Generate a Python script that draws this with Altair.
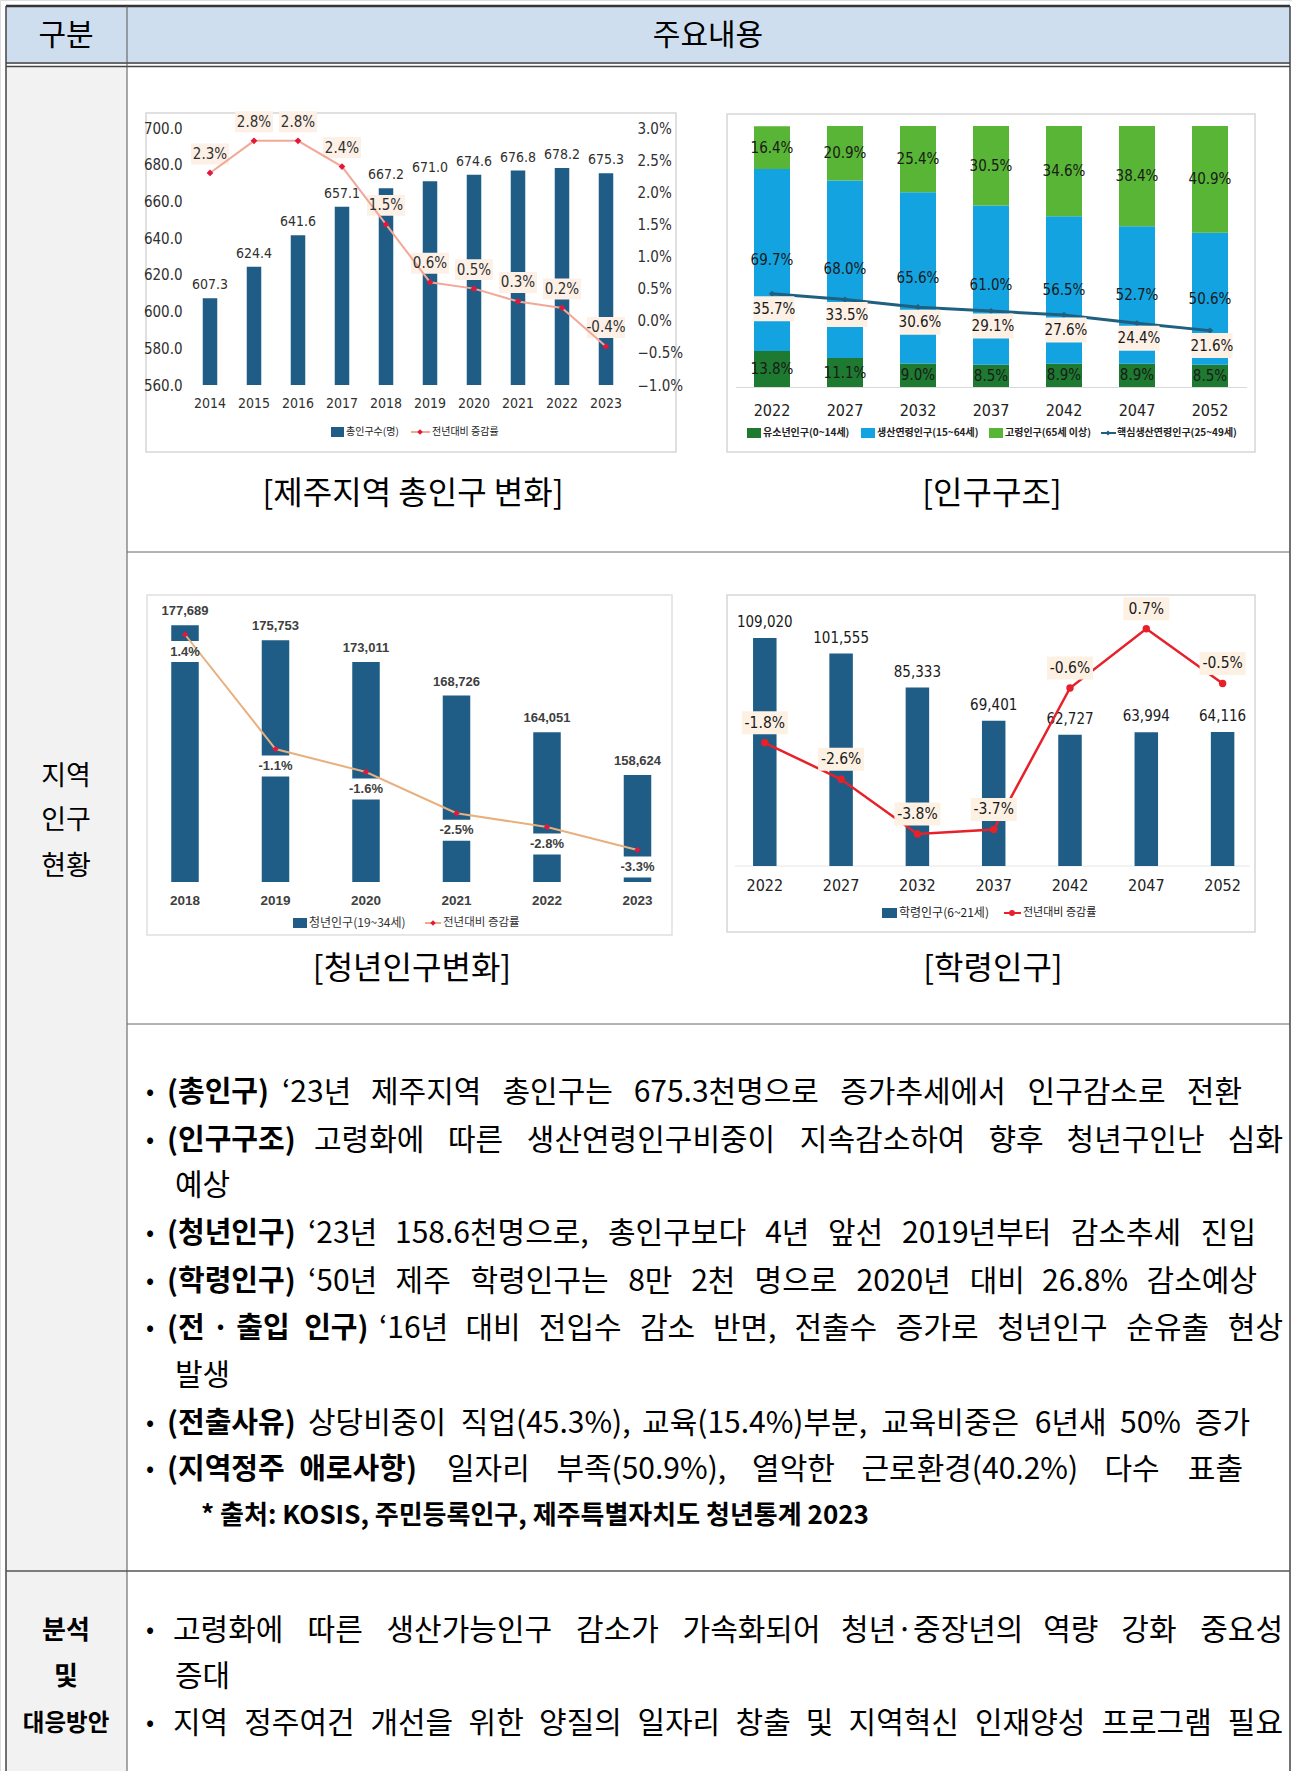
import altair as alt
import pandas as pd

W, H = 1292, 1771
KR = "Noto Sans CJK KR"
NUM = "Liberation Sans Narrow, DejaVu Sans Condensed, Liberation Sans, sans-serif"
ARIAL = "Liberation Sans, Arial, sans-serif"

# ---------------- data ----------------
c1_years = ['2014', '2015', '2016', '2017', '2018', '2019', '2020', '2021', '2022', '2023']
c1_pop = [607.3, 624.4, 641.6, 657.1, 667.2, 671.0, 674.6, 676.8, 678.2, 675.3]
c1_rate = [2.3, 2.8, 2.8, 2.4, 1.5, 0.6, 0.5, 0.3, 0.2, -0.4]
c1_yticks = [560, 580, 600, 620, 640, 660, 680, 700]
c1_rticks = [-1.0, -0.5, 0.0, 0.5, 1.0, 1.5, 2.0, 2.5, 3.0]

c2_years = ['2022', '2027', '2032', '2037', '2042', '2047', '2052']
c2_groups = ['유소년인구(0~14세)', '생산연령인구(15~64세)', '고령인구(65세 이상)']
c2_youth = [13.8, 11.1, 9.0, 8.5, 8.9, 8.9, 8.5]
c2_work = [69.7, 68.0, 65.6, 61.0, 56.5, 52.7, 50.6]
c2_old = [16.4, 20.9, 25.4, 30.5, 34.6, 38.4, 40.9]
c2_core = [35.7, 33.5, 30.6, 29.1, 27.6, 24.4, 21.6]
c2_line_name = '핵심생산연령인구(25~49세)'

c3_years = ['2018', '2019', '2020', '2021', '2022', '2023']
c3_pop = [177689, 175753, 173011, 168726, 164051, 158624]
c3_rate = [1.4, -1.1, -1.6, -2.5, -2.8, -3.3]

c4_years = ['2022', '2027', '2032', '2037', '2042', '2047', '2052']
c4_pop = [109020, 101555, 85333, 69401, 62727, 63994, 64116]
c4_rate = [-1.8, -2.6, -3.8, -3.7, -0.6, 0.7, -0.5]

captions = ['[제주지역 총인구 변화]', '[인구구조]', '[청년인구변화]', '[학령인구]']

# ---------------- styles ----------------
BAR = '#1f5d87'
RED = '#e3173a'
TXT = '#303030'

DUMMY = pd.DataFrame({'k': [0]})
layers = []


def rect(x1, y1, x2, y2, fill, stroke=None, sw=0):
    kw = dict(fill=fill, strokeWidth=sw)
    if stroke:
        kw['stroke'] = stroke
    return alt.Chart(DUMMY).mark_rect(**kw).encode(
        x=alt.value(x1), x2=alt.value(x2), y=alt.value(y1), y2=alt.value(y2))


def rule(x1, y1, x2, y2, color, sw):
    return alt.Chart(DUMMY).mark_rule(color=color, strokeWidth=sw).encode(
        x=alt.value(x1), x2=alt.value(x2), y=alt.value(y1), y2=alt.value(y2))


def label(s, x, y, size, weight='normal', align='left', font=KR, color='#000000'):
    return alt.Chart(DUMMY).mark_text(
        text=s, align=align, baseline='middle', font=font, fontSize=size,
        fontWeight=weight, color=color).encode(x=alt.value(x), y=alt.value(y))


def sym(x, y, shape, size, color):
    return alt.Chart(DUMMY).mark_point(
        shape=shape, size=size, filled=True, color=color, opacity=1, strokeWidth=0
    ).encode(x=alt.value(x), y=alt.value(y))


def box_shape(w, h):
    r = h / w
    return f"M-1,-{r:.4f}L1,-{r:.4f}L1,{r:.4f}L-1,{r:.4f}Z"


def xaxis(offset_y, pad, font, size, weight='normal', domain=False, color=TXT):
    return alt.Axis(orient='bottom', offset=offset_y - H, labelPadding=pad, domain=domain,
                    domainColor='#d9d9d9', domainWidth=1, ticks=False, tickSize=0,
                    grid=False, title=None, labelAngle=0, labelFont=font, zindex=1,
                    labelFontSize=size, labelFontWeight=weight, labelColor=color)


# --- text justification helpers (layout only) ---
def em_width(s):
    w = 0.0
    for ch in s:
        if '\uac00' <= ch <= '\ud7a3':
            w += 0.935
        elif ch.isdigit():
            w += 0.555
        elif ch in '.,':
            w += 0.26
        elif ch in '()':
            w += 0.33
        elif ch == '%':
            w += 0.84
        elif ch == '\u2018':
            w += 0.25
        elif ch == '\u00b7':
            w += 0.3
        else:
            w += 0.5
    return w


def text_line(text, x0, x1, y, size, weight='normal'):
    """Distribute the words of one line between x0 and x1 (justified)."""
    words = text.split(' ')
    widths = [em_width(w) * size for w in words]
    gap = (x1 - x0 - sum(widths)) / (len(words) - 1)
    out, x = [], x0
    last = len(words) - 1
    for i, (wd_text, wd) in enumerate(zip(words, widths)):
        if i == 0:
            out.append(label(wd_text, x0, y, size, weight))
        elif i == last:
            out.append(label(wd_text, x1, y, size, weight, align='right'))
        else:
            out.append(label(wd_text, x + wd / 2, y, size, weight, align='center'))
        x += wd + gap
    return out


# ---------------- table background ----------------
layers += [
    rect(6, 6, 1290, 64, '#cfdeee'),
    rect(6, 66, 127, H, '#f2f2f2'),
    rect(146, 113, 676, 452, '#ffffff', '#d6d6d6', 1.5),
    rect(727, 114, 1255, 452, '#ffffff', '#d6d6d6', 1.5),
    rect(147, 595, 672, 935, '#ffffff', '#e0e0e0', 1.5),
    rect(727, 595, 1255, 932, '#ffffff', '#d6d6d6', 1.5),
]

# ---------------- chart 1 ----------------
c1 = pd.DataFrame({'year': c1_years, 'pop': c1_pop, 'rate': c1_rate})
c1['pop_lbl'] = [f"{v:.1f}" for v in c1_pop]
c1['rate_lbl'] = [f"{v:.1f}%" for v in c1_rate]
X1 = alt.Scale(type='band', domain=c1_years, range=[188, 628], paddingInner=0, paddingOuter=0)
Y1 = alt.Scale(type='linear', domain=[560, 700], range=[385, 128], zero=False, nice=False)
R1 = alt.Scale(type='linear', domain=[-1, 3], range=[385, 128], zero=False, nice=False)
x1n = alt.X('year:N', scale=X1, axis=None)
b1 = alt.Chart(c1)
layers += [
    b1.mark_bar(width=14.5, color=BAR).encode(
        x=alt.X('year:N', scale=X1, axis=xaxis(385, 11, NUM, 14)),
        y=alt.Y('pop:Q', scale=Y1, axis=alt.Axis(
            orient='left', offset=-182, values=c1_yticks, format='.1f', domain=False,
            ticks=False, tickSize=0, labelPadding=0, grid=False, title=None, zindex=1,
            labelFont=NUM, labelFontSize=15, labelColor=TXT)),
        y2=alt.datum(560)),
    b1.mark_text(dy=-13, font=NUM, fontSize=14, color=TXT).encode(
        x=x1n, y=alt.Y('pop:Q', scale=Y1, axis=None), text='pop_lbl:N'),
    b1.mark_point(shape=box_shape(38, 21), size=38 ** 2, filled=True, color='#fdf0e6',
                  opacity=1, strokeWidth=0, yOffset=-19).encode(
        x=x1n, y=alt.Y('rate:Q', scale=R1, axis=None)),
    b1.mark_line(color='#f2a898', strokeWidth=2).encode(
        x=x1n, y=alt.Y('rate:Q', scale=R1, axis=alt.Axis(
            orient='right', offset=637 - W, values=c1_rticks,
            labelExpr="format(datum.value, '.1f') + '%'", domain=False, ticks=False,
            tickSize=0, labelPadding=0, grid=False, title=None, zindex=1,
            labelFont=NUM, labelFontSize=15, labelColor=TXT))),
    b1.mark_point(shape='diamond', filled=True, size=45, color=RED, opacity=1).encode(
        x=x1n, y=alt.Y('rate:Q', scale=R1, axis=None)),
    b1.mark_text(dy=-19, font=NUM, fontSize=15, color=TXT).encode(
        x=x1n, y=alt.Y('rate:Q', scale=R1, axis=None), text='rate_lbl:N'),
]
layers += [
    rect(331, 427, 344, 437, BAR),
    label('총인구수(명)', 346, 432, 10, color='#222222'),
    rule(411, 432, 430, 432, '#f2a898', 2),
    sym(420, 432, 'diamond', 30, RED),
    label('전년대비 증감률', 432, 432, 10, color='#222222'),
]

# ---------------- chart 2 ----------------
rows = []
for i, yr in enumerate(c2_years):
    for k, vals in enumerate([c2_youth, c2_work, c2_old]):
        rows.append({'year': yr, 'group': c2_groups[k], 'order': k, 'share': vals[i]})
c2 = pd.DataFrame(rows)
c2['lbl'] = [f"{v:.1f}%" for v in c2['share']]
c2l = pd.DataFrame({'year': c2_years, 'core': c2_core})
c2l['lbl'] = [f"{v:.1f}%" for v in c2_core]
X2 = alt.Scale(type='band', domain=c2_years, range=[735.5, 1246.5], paddingInner=0, paddingOuter=0)
S2 = alt.Scale(type='linear', domain=[0, 100], range=[387, 126], zero=False, nice=False)
C2 = ['#1d7a30', '#12a3e0', '#58b535']
x2n = alt.X('year:N', scale=X2, axis=None)
stk = alt.Chart(c2).transform_stack(
    stack='share', groupby=['year'], as_=['lo', 'hi'],
    sort=[alt.SortField('order', order='ascending')]
).transform_calculate(mid='(datum.lo + datum.hi) / 2')
b2 = alt.Chart(c2l)
layers += [
    stk.mark_bar(width=36).encode(
        x=alt.X('year:N', scale=X2, axis=xaxis(387, 15, NUM, 16, domain=True, color='#222222')),
        y=alt.Y('lo:Q', scale=S2, axis=None), y2='hi:Q',
        color=alt.Color('group:N', scale=alt.Scale(domain=c2_groups, range=C2), legend=None)),
    stk.mark_text(font=NUM, fontSize=15, color='#1a1a1a').encode(
        x=x2n, y=alt.Y('mid:Q', scale=S2, axis=None), text='lbl:N'),
    b2.mark_line(color='#1f5f80', strokeWidth=3).encode(
        x=x2n, y=alt.Y('core:Q', scale=S2, axis=None)),
    b2.mark_point(shape='diamond', filled=True, size=40, color='#1f5f80', opacity=1).encode(
        x=x2n, y=alt.Y('core:Q', scale=S2, axis=None)),
    b2.mark_point(shape=box_shape(41, 25), size=41 ** 2, filled=True, color='#fdf1e6',
                  opacity=1, strokeWidth=0, yOffset=15, xOffset=2).encode(
        x=x2n, y=alt.Y('core:Q', scale=S2, axis=None)),
    b2.mark_text(dy=15, dx=2, font=NUM, fontSize=15, color='#1a1a1a').encode(
        x=x2n, y=alt.Y('core:Q', scale=S2, axis=None), text='lbl:N'),
]
layers += [
    rect(747, 428, 761, 438, C2[0]),
    label(c2_groups[0], 763, 433, 10, weight='bold', color='#222222'),
    rect(861, 428, 875, 438, C2[1]),
    label(c2_groups[1], 877, 433, 10, weight='bold', color='#222222'),
    rect(989, 428, 1003, 438, C2[2]),
    label(c2_groups[2], 1005, 433, 10, weight='bold', color='#222222'),
    rule(1101, 433, 1116, 433, '#1f5f80', 2),
    sym(1108, 433, 'diamond', 25, '#1f5f80'),
    label(c2_line_name, 1117, 433, 10, weight='bold', color='#222222'),
]

# ---------------- chart 3 ----------------
c3 = pd.DataFrame({'year': c3_years, 'pop': c3_pop, 'rate': c3_rate})
c3['pop_lbl'] = [f"{v:,}" for v in c3_pop]
c3['rate_lbl'] = [f"{v:.1f}%" for v in c3_rate]
X3 = alt.Scale(type='band', domain=c3_years, range=[139.75, 682.75], paddingInner=0, paddingOuter=0)
Y3 = alt.Scale(type='linear', domain=[145000, 180000], range=[882, 607], zero=False, nice=False)
R3 = alt.Scale(type='linear', domain=[-4, 2], range=[882, 607], zero=False, nice=False)
x3n = alt.X('year:N', scale=X3, axis=None)
b3 = alt.Chart(c3)
layers += [
    b3.mark_bar(width=27.5, color=BAR).encode(
        x=alt.X('year:N', scale=X3, axis=xaxis(882, 11, ARIAL, 13.5, weight='bold', color='#404040')),
        y=alt.Y('pop:Q', scale=Y3, axis=None), y2=alt.datum(145000)),
    b3.mark_point(shape=box_shape(40, 21), size=40 ** 2, filled=True, color='#ffffff',
                  opacity=1, strokeWidth=0, yOffset=17).encode(
        x=x3n, y=alt.Y('rate:Q', scale=R3, axis=None)),
    b3.mark_line(color='#e8b07e', strokeWidth=2).encode(
        x=x3n, y=alt.Y('rate:Q', scale=R3, axis=None)),
    b3.mark_point(shape='diamond', filled=True, size=40, color=RED, opacity=1).encode(
        x=x3n, y=alt.Y('rate:Q', scale=R3, axis=None)),
    b3.mark_text(dy=17, font=ARIAL, fontSize=13, fontWeight='bold', color='#404040').encode(
        x=x3n, y=alt.Y('rate:Q', scale=R3, axis=None), text='rate_lbl:N'),
    b3.mark_text(dy=-14, font=ARIAL, fontSize=13, fontWeight='bold', color='#404040').encode(
        x=x3n, y=alt.Y('pop:Q', scale=Y3, axis=None), text='pop_lbl:N'),
]
layers += [
    rect(293, 918, 307, 928, BAR),
    label('청년인구(19~34세)', 309, 923, 12, color='#333333'),
    rule(425, 923, 441, 923, '#e8b07e', 2),
    sym(433, 923, 'diamond', 30, RED),
    label('전년대비 증감률', 443, 923, 11.5, color='#333333'),
]

# ---------------- chart 4 ----------------
c4 = pd.DataFrame({'year': c4_years, 'pop': c4_pop, 'rate': c4_rate})
c4['pop_lbl'] = [f"{v:,}" for v in c4_pop]
c4['rate_lbl'] = [f"{v:.1f}%" for v in c4_rate]
X4 = alt.Scale(type='band', domain=c4_years, range=[726.65, 1260.75], paddingInner=0, paddingOuter=0)
Y4 = alt.Scale(type='linear', domain=[0, 120000], range=[866, 615], zero=False, nice=False)
R4 = alt.Scale(type='linear', domain=[-4.5, 1.0], range=[866, 615], zero=False, nice=False)
x4n = alt.X('year:N', scale=X4, axis=None)
b4 = alt.Chart(c4)
layers += [
    rule(735, 866, 1250, 866, '#e6e6e6', 1),
    b4.mark_bar(width=23.5, color=BAR).encode(
        x=alt.X('year:N', scale=X4, axis=xaxis(866, 11, NUM, 16, color='#222222')),
        y=alt.Y('pop:Q', scale=Y4, axis=None), y2=alt.datum(0)),
    b4.mark_text(dy=-16, font=NUM, fontSize=15, color='#1a1a1a').encode(
        x=x4n, y=alt.Y('pop:Q', scale=Y4, axis=None), text='pop_lbl:N'),
    b4.mark_line(color='#e8202a', strokeWidth=2.5).encode(
        x=x4n, y=alt.Y('rate:Q', scale=R4, axis=None)),
    b4.mark_point(shape='circle', filled=True, size=55, color='#e8202a', opacity=1).encode(
        x=x4n, y=alt.Y('rate:Q', scale=R4, axis=None)),
    b4.mark_point(shape=box_shape(46, 23), size=46 ** 2, filled=True, color='#fdf1e4',
                  opacity=1, strokeWidth=0, yOffset=-20).encode(
        x=x4n, y=alt.Y('rate:Q', scale=R4, axis=None)),
    b4.mark_text(dy=-20, font=NUM, fontSize=15.5, color='#1a1a1a').encode(
        x=x4n, y=alt.Y('rate:Q', scale=R4, axis=None), text='rate_lbl:N'),
]
layers += [
    rect(882, 908, 897, 918, BAR),
    label('학령인구(6~21세)', 899, 913, 12, color='#222222'),
    rule(1004, 913, 1021, 913, '#e8202a', 2),
    sym(1012, 913, 'circle', 35, '#e8202a'),
    label('전년대비 증감률', 1023, 913, 11, color='#222222'),
]

# ---------------- captions ----------------
layers += [
    label(captions[0], 413, 494, 32, align='center'),
    label(captions[1], 992, 494, 32, align='center'),
    label(captions[2], 412, 969, 32, align='center'),
    label(captions[3], 993, 969, 32, align='center'),
]

# ---------------- header and left column ----------------
layers += [
    label('구분', 66, 36, 30, align='center'),
    label('주요내용', 708, 36, 30, align='center'),
    label('지역', 66, 777, 27, align='center'),
    label('인구', 66, 821, 27, align='center'),
    label('현황', 66, 867, 27, align='center'),
    label('분석', 66, 1631, 26, weight='bold', align='center'),
    label('및', 66, 1677, 26, weight='bold', align='center'),
    label('대응방안', 66, 1724, 23.5, weight='bold', align='center'),
]

# ---------------- body text ----------------
BODY = 30
BOLD = 29
# (bold prefix, text, text start x, text end x)
body = [
    ('(총인구)', '‘23년 제주지역 총인구는 675.3천명으로 증가추세에서 인구감소로 전환', 282, 1242),
    ('(인구구조)', '고령화에 따른 생산연령인구비중이 지속감소하여 향후 청년구인난 심화', 314, 1283),
    (None, '예상', 175, None),
    ('(청년인구)', '‘23년 158.6천명으로, 총인구보다 4년 앞선 2019년부터 감소추세 진입', 308, 1256),
    ('(학령인구)', '‘50년 제주 학령인구는 8만 2천 명으로 2020년 대비 26.8% 감소예상', 308, 1257),
    ('(전\u2005·\u2005출입\u2002인구)', '‘16년 대비 전입수 감소 반면, 전출수 증가로 청년인구 순유출 현상', 379, 1283),
    (None, '발생', 175, None),
    ('(전출사유)', '상당비중이 직업(45.3%), 교육(15.4%)부분, 교육비중은 6년새 50% 증가', 308, 1250),
    ('(지역정주\u2002애로사항)', '일자리 부족(50.9%), 열악한 근로환경(40.2%) 다수 표출', 447, 1243),
]
ys = [1093, 1141, 1186, 1234, 1282, 1329, 1376, 1424, 1470]
for (b, t, x0, x1), y in zip(body, ys):
    if b is not None:
        layers.append(label('•', 150, y, 24, align='center'))
        layers.append(label(b, 167, y, BOLD, weight='bold'))
    if x1 is None:
        layers.append(label(t, x0, y, BODY))
    else:
        layers += text_line(t, x0, x1, y, BODY)
layers.append(label('* 출처: KOSIS, 주민등록인구, 제주특별자치도 청년통계 2023', 201, 1516, 26, weight='bold'))

layers.append(label('•', 150, 1631, 24, align='center'))
layers += text_line('고령화에 따른 생산가능인구 감소가 가속화되어 청년·중장년의 역량 강화 중요성', 173, 1283, 1631, BODY)
layers.append(label('증대', 175, 1677, BODY))
layers.append(label('•', 150, 1724, 24, align='center'))
layers += text_line('지역 정주여건 개선을 위한 양질의 일자리 창출 및 지역혁신 인재양성 프로그램 필요', 173, 1283, 1724, BODY)

# ---------------- table lines ----------------
layers += [
    rule(6, 6, 1290, 6, '#333333', 2.5),
    rule(6, 63, 1290, 63, '#444444', 1.5),
    rule(6, 66.5, 1290, 66.5, '#444444', 1.5),
    rule(6, 6, 6, H, '#444444', 1.5),
    rule(1290, 6, 1290, H, '#444444', 1.5),
    rule(127, 6, 127, H, '#555555', 1),
    rule(127, 552, 1290, 552, '#666666', 1),
    rule(127, 1024, 1290, 1024, '#666666', 1),
    rule(6, 1571, 1290, 1571, '#555555', 1.5),
]

chart = alt.layer(*layers).properties(
    width=W, height=H, padding=0, autosize=alt.AutoSizeParams(type='none')
).resolve_scale(
    x='independent', y='independent', color='independent'
).configure_view(strokeWidth=0).configure(background='#ffffff')

chart.save("out.html", embed_options={"renderer": "svg", "actions": False})
